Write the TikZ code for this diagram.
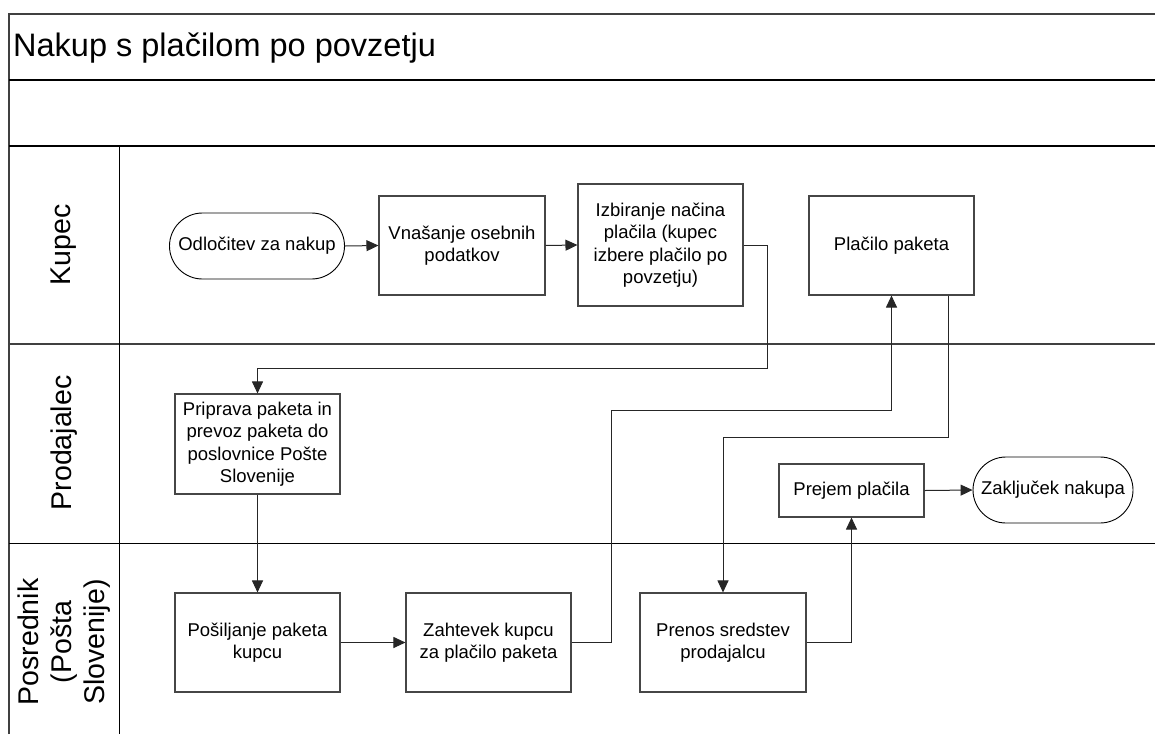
\documentclass[tikz,border=0pt]{standalone}
\usepackage{fontspec}
\setmainfont{Liberation Sans}
\usetikzlibrary{arrows.meta,shapes.misc}
\definecolor{rimgray}{RGB}{64,64,64}
\definecolor{boxgray}{RGB}{70,70,70}
\tikzset{
  proc/.style={draw=boxgray, line width=1.1pt, fill=white, align=center, inner sep=2pt,
    font=\fontsize{18.5}{22.5}\selectfont},
  term/.style={proc, rounded rectangle, draw=black, line width=0.9pt},
  lanelabel/.style={rotate=90, align=center, inner sep=0pt,
    font=\fontsize{28.5}{33}\selectfont},
  flow/.style={draw=black!85, line width=1pt, -{Triangle[length=12pt,width=11pt]}}
}

\begin{document}
\begin{tikzpicture}[x=1pt,y=1pt,yscale=-1,xscale=1]
\useasboundingbox (0,0) rectangle (1155,734);
% pool frame
\draw [rimgray, line width=2.4pt] (9,734) -- (9,14) -- (1155,14) ;
\draw [line width=1.3pt] (9,80) -- (1155,80) ;
\draw [line width=1.3pt] (9,146) -- (1155,146) ;
\draw [rimgray, line width=1.6pt] (9,344) -- (1155,344) ;
\draw [line width=1pt] (9,543) -- (1155,543) ;
\draw [line width=1pt] (119,146) -- (119,734) ;

\draw (13,56) node [anchor=base west, inner sep=0pt, font=\fontsize{32.5}{37}\selectfont] (title) {Nakup s plačilom po povzetju};

% lanes
\node [lanelabel] (kupec) at (64,245) {Kupec};
\node [lanelabel] (prodajalec) at (64,443) {Prodajalec};
\node [lanelabel] (posrednik) at (64,642) {Posrednik\\(Pošta\\Slovenije)};

% steps
\node [term, minimum width=179pt, minimum height=66pt] (odl) at (257,246) {Odločitev za nakup};
\node [proc, minimum width=166pt, minimum height=99pt] (vna) at (462,245.5) {Vnašanje osebnih\\podatkov};
\node [proc, minimum width=165pt, minimum height=122pt] (izb) at (660.5,245) {Izbiranje načina\\plačila (kupec\\izbere plačilo po\\povzetju)};
\node [proc, minimum width=165pt, minimum height=99pt] (plac) at (891.5,245.5) {Plačilo paketa};
\node [proc, minimum width=165pt, minimum height=100pt] (prip) at (257.5,444) {Priprava paketa in\\prevoz paketa do\\poslovnice Pošte\\Slovenije};
\node [proc, minimum width=165pt, minimum height=99pt] (posi) at (257.5,642.5) {Pošiljanje paketa\\kupcu};
\node [proc, minimum width=165pt, minimum height=99pt] (zaht) at (488.5,642.5) {Zahtevek kupcu\\za plačilo paketa};
\node [proc, minimum width=166pt, minimum height=99pt] (pren) at (723,642.5) {Prenos sredstev\\prodajalcu};
\node [proc, minimum width=145pt, minimum height=53pt] (prej) at (851.5,490.5) {Prejem plačila};
\node [term, minimum width=164pt, minimum height=66pt] (zakl) at (1053,490) {Zaključek nakupa};

% flows
\draw [flow] (odl.east) -- (vna.west) ;
\draw [flow] (vna.west -| vna.east) -- (izb.west) ;
\draw [flow] (izb.east) -- ++(24,0) -- ++(0,123) -| (prip.north) ;
\draw [flow] (prip.south) -- (posi.north) ;
\draw [flow] (posi.east) -- (zaht.west) ;
\draw [flow] (zaht.east) -- ++(40,0) -- ++(0,-232) -| (plac.south) ;
\draw [flow] ([xshift=56.5pt]plac.south) -- ++(0,142) -| (pren.north) ;
\draw [flow] (pren.east) -| (prej.south) ;
\draw [flow] (prej.east) -- (zakl.west) ;
\end{tikzpicture}
\end{document}
